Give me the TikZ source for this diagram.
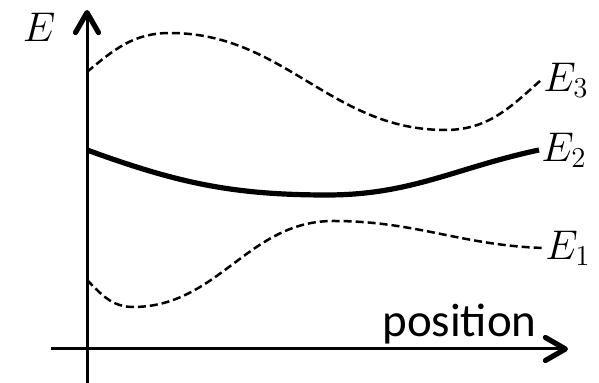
\documentclass[tikz,border=0pt]{standalone}
\usepackage{fontspec}
\newfontfamily\possans{Carlito}
\usepackage{tikz}
\usetikzlibrary{arrows.meta}

\begin{document}
\begin{tikzpicture}[
  x=0.5pt, y=0.5pt,
  ax/.style={line width=1.5pt, -{Straight Barb[length=10pt, width=11.5pt, line width=2.6pt, round]}},
  lvl/.style={line width=1.25pt, dash pattern=on 4pt off 2pt},
  lvlmain/.style={line width=2.6pt},
  lbl/.style={anchor=west, inner sep=1pt, font=\fontsize{20.5}{24}\selectfont}
]
  \useasboundingbox (0,0) rectangle (599,383);

  % axes
  \coordinate (xs) at (51,34);
  \coordinate (xe) at (568,34);
  \coordinate (ys) at (87,0);
  \coordinate (ye) at (87,373);
  \draw[ax] (xs) -- (xe);
  \draw[ax] (ys) -- (ye);
  \node[anchor=base, inner sep=0pt, font=\fontsize{20.5}{24}\selectfont] (elabel) at (39,341) {$E$};
  \node[anchor=base west, inner sep=0pt, font=\possans\fontsize{23.5}{28}\selectfont] (poslabel) at (382,46) {position};

  % levels
  \node[lbl] (e3) at (541,303) {$E_3$};
  \node[lbl] (e2) at (539,233) {$E_2$};
  \node[lbl] (e1) at (543,135) {$E_1$};

  \draw[lvl] (87,311) to[out=40,in=180] (170,350) to[out=0,in=180] (445,253)
    to[out=0,in=222] (e3.west);
  \draw[lvlmain] (87,233) to[out=-20,in=180] (327,188) to[out=0,in=192] (e2.west);
  \draw[lvl] (87,103) to[out=-45,in=180] (133,76) to[out=0,in=180] (333,162)
    to[out=0,in=178] (e1.west);
\end{tikzpicture}
\end{document}
